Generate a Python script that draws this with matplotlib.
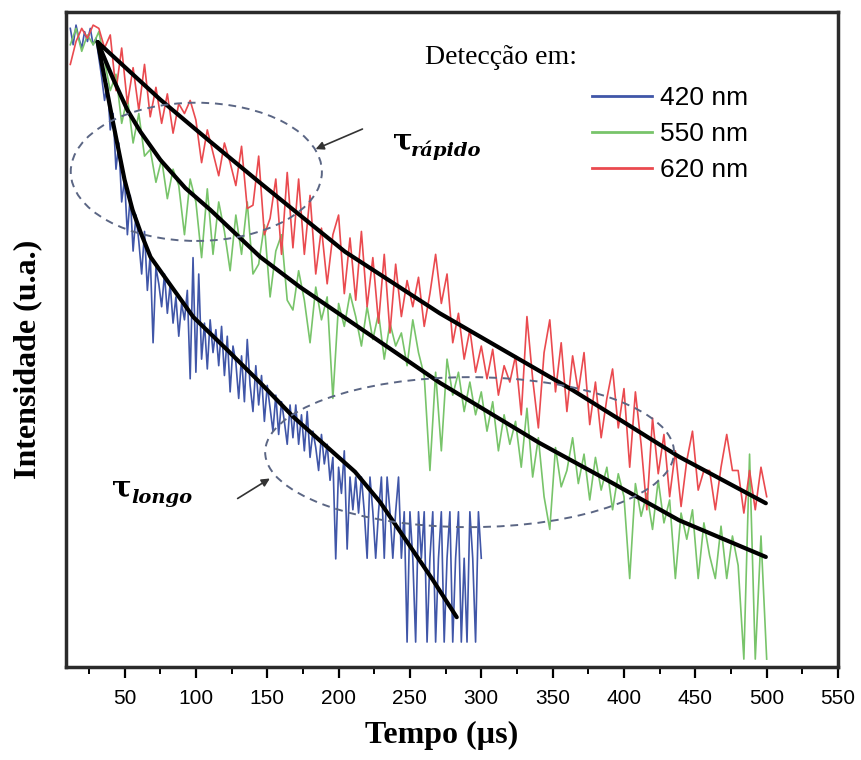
import numpy as np
import matplotlib.pyplot as plt
from matplotlib.patches import Ellipse

# --- measured decay traces (intensity in arbitrary units, 0-100) ---
# 420 nm: sampled every 2 us starting at 12 us
t0_blue, dt_blue = 12, 2
i_blue = [97.5, 95.0, 98.0, 96.0, 94.5, 97.0, 95.5, 97.5, 95.0, 96.0,
          93.0, 90.0, 86.5, 89.0, 82.0, 84.5, 76.0, 80.0, 71.0, 74.5,
          66.0, 72.0, 63.5, 69.0, 65.0, 60.0, 66.5, 57.5, 63.0, 49.5,
          61.0, 58.5, 55.0, 60.0, 54.0, 58.5, 52.5, 56.5, 50.5, 55.5,
          53.0, 57.5, 44.0, 62.5, 45.0, 60.0, 47.0, 52.5, 45.5, 53.0,
          48.0, 51.5, 46.0, 52.0, 44.5, 50.5, 42.0, 49.0, 46.5, 41.0,
          47.5, 40.5, 50.0, 43.0, 39.0, 46.0, 40.0, 44.5, 37.5, 43.0,
          39.5, 36.0, 41.5, 35.5, 40.5, 37.5, 34.0, 40.0, 35.0, 40.0,
          34.0, 38.5, 33.0, 39.0, 32.0, 36.0, 33.5, 30.0, 35.5, 31.0,
          34.0, 28.5, 32.0, 16.5, 30.5, 26.5, 33.0, 18.0, 29.0, 24.0,
          29.0, 23.5, 29.0, 23.7, 16.6, 29.0, 23.7, 16.6, 23.7, 29.0,
          16.6, 29.0, 23.7, 16.6, 23.7, 29.0, 16.6, 23.7, 3.8, 23.7,
          16.6, 3.8, 23.7, 16.6, 23.7, 3.8, 16.6, 23.7, 3.8, 16.6,
          23.7, 3.8, 16.6, 23.7, 3.8, 16.6, 23.7, 3.8, 16.6, 3.8,
          23.7, 16.6, 3.8, 23.7, 16.6]

# 550 nm: sampled every 4 us starting at 12 us
t0_green, dt_green = 12, 4
i_green = [95.0, 97.5, 94.0, 96.5, 95.0, 97.0, 92.5, 88.0, 90.5, 83.0,
           87.0, 80.0, 84.5, 78.0, 79.0, 74.0, 77.5, 71.5, 76.0, 73.5,
           66.0, 74.5, 71.0, 62.5, 73.0, 63.0, 71.0, 66.5, 60.5, 69.0,
           63.0, 71.0, 60.0, 61.5, 67.5, 56.5, 63.5, 66.0, 56.0, 54.5,
           60.5, 56.0, 49.5, 58.0, 53.0, 56.5, 41.0, 55.5, 52.0, 57.0,
           53.5, 49.0, 55.0, 50.0, 54.0, 47.0, 52.5, 49.0, 51.0, 46.0,
           53.0, 48.0, 44.5, 30.0, 45.0, 33.0, 47.0, 41.5, 45.0, 39.0,
           43.5, 38.5, 42.0, 36.0, 40.5, 33.0, 38.5, 34.0, 37.5, 30.5,
           39.5, 29.0, 35.0, 26.0, 21.0, 33.5, 27.5, 30.0, 35.0, 28.0,
           32.5, 25.5, 32.0, 27.0, 30.5, 24.0, 29.5, 26.0, 13.5, 28.0,
           23.0, 26.5, 21.0, 28.5, 22.0, 25.5, 13.5, 23.5, 19.5, 24.0,
           13.5, 22.0, 17.0, 13.5, 21.5, 13.5, 20.0, 15.5, 1.2, 32.5,
           1.2, 20.0, 1.2]

# 620 nm: sampled every 4 us starting at 12 us
t0_red, dt_red = 12, 4
i_red = [92.0, 95.5, 97.5, 96.0, 98.0, 97.5, 94.5, 96.5, 88.0, 94.5,
         86.0, 91.5, 85.0, 92.0, 84.0, 88.5, 83.0, 87.5, 81.5, 86.0,
         84.5, 86.5, 83.5, 77.0, 82.0, 78.5, 75.0, 80.0, 77.0, 73.5,
         79.5, 70.0, 70.5, 78.0, 66.0, 68.5, 74.5, 63.0, 75.5, 64.0,
         74.5, 63.0, 72.0, 60.0, 67.0, 58.5, 66.0, 69.0, 57.0, 65.5,
         56.0, 66.5, 55.0, 62.5, 52.5, 63.0, 51.0, 61.5, 53.5, 59.0,
         55.0, 59.5, 52.0, 57.0, 63.0, 55.5, 60.0, 49.5, 54.0, 47.0,
         51.5, 45.0, 49.0, 44.0, 48.5, 41.5, 46.0, 43.5, 47.5, 38.5,
         53.5, 44.0, 36.5, 48.0, 53.0, 42.0, 49.5, 39.0, 47.5, 42.0,
         48.0, 37.0, 43.5, 35.0, 41.0, 45.5, 36.5, 42.5, 30.5, 42.0,
         34.0, 24.0, 38.0, 29.5, 35.5, 26.0, 33.0, 24.5, 31.5, 36.0,
         27.0, 30.0, 30.0, 24.0, 30.5, 35.5, 30.0, 30.0, 23.5, 30.0,
         24.0, 30.5, 26.0]

# --- fitted curves ---
fit_blue_t = [31.2, 41.6, 50.0, 55.6, 61.2, 68.2, 82.2, 98.3, 122.0, 145.1, 168.2, 191.9, 211.5, 229.0, 249.9, 266.0, 282.8]
fit_blue_i = [95.4, 83.5, 74.4, 69.8, 66.4, 62.6, 58.3, 53.4, 48.4, 43.4, 38.2, 33.6, 29.8, 25.2, 18.5, 13.3, 7.6]
fit_green_t = [31.2, 41.6, 52.1, 61.2, 75.2, 92.7, 110.1, 145.1, 173.0, 222.0, 270.9, 340.8, 382.7, 438.6, 499.4]
fit_green_i = [95.4, 90.0, 85.0, 81.7, 77.4, 73.1, 69.8, 62.6, 58.0, 50.7, 43.4, 34.2, 29.2, 22.4, 16.8]
fit_red_t = [31.2, 54.2, 75.2, 110.1, 145.1, 204.5, 270.9, 363.8, 438.6, 499.4]
fit_red_i = [95.4, 90.8, 86.6, 80.2, 73.9, 63.4, 54.0, 42.3, 32.1, 25.0]

labels = ['420 nm', '550 nm', '620 nm']
colors = ['#4056a8', '#78c46a', '#ea4a4f']

serif = 'Liberation Serif'
sans = 'Liberation Sans'

fig = plt.figure(figsize=(8.62, 7.6), dpi=100)
ax = fig.add_axes([0.0766, 0.1224, 0.8956, 0.8618])

traces = [(t0_blue, dt_blue, i_blue), (t0_green, dt_green, i_green), (t0_red, dt_red, i_red)]
handles = []
for (t0, dt, vals), c, lab in zip(traces, colors, labels):
    t = t0 + dt * np.arange(len(vals))
    h, = ax.plot(t, vals, color=c, lw=1.2, label=lab)
    handles.append(h)

for ft, fi in [(fit_blue_t, fit_blue_i), (fit_green_t, fit_green_i), (fit_red_t, fit_red_i)]:
    ax.plot(ft, fi, color='black', lw=3, solid_capstyle='round', solid_joinstyle='round', zorder=5)

# dashed ellipses marking the two decay regimes
ell_color = '#5b6684'
ax.add_patch(Ellipse((100.3, 75.6), 176, 21.1, fill=False, ec=ell_color, lw=1.4, ls=(0, (4, 3)), zorder=6))
ax.add_patch(Ellipse((291.8, 32.8), 286.5, 22.9, fill=False, ec=ell_color, lw=1.4, ls=(0, (4, 3)), zorder=6))

arrow = dict(arrowstyle='-|>', color='#333333', lw=1.2, mutation_scale=12)
ax.annotate('', xy=(182.1, 78.9), xytext=(218.5, 82.3), arrowprops=arrow, zorder=7)
ax.annotate('', xy=(153.5, 29.0), xytext=(127.6, 25.5), arrowprops=arrow, zorder=7)

ax.text(238, 79.0, 'τ', fontsize=21, fontweight='bold', family='DejaVu Serif', va='baseline')
ax.text(251, 78.0, 'rápido', fontsize=14, fontweight='bold', style='italic', family='DejaVu Serif', va='baseline')
ax.text(41.5, 26.0, 'τ', fontsize=21, fontweight='bold', family='DejaVu Serif', va='baseline')
ax.text(54.5, 25.0, 'longo', fontsize=14, fontweight='bold', style='italic', family='DejaVu Serif', va='baseline')

ax.text(0.465, 0.931, 'Detecção em:', transform=ax.transAxes, fontsize=20, family=serif, va='center')
leg = ax.legend(handles=handles, loc='upper left', bbox_to_anchor=(0.681, 0.887), frameon=False,
                prop={'family': sans, 'size': 19}, handlelength=2.3, handletextpad=0.3,
                labelspacing=0.45, borderpad=0, borderaxespad=0)
for line in leg.get_lines():
    line.set_linewidth(2)

ax.set_xlim(9, 550)
ax.set_ylim(0, 100)
ax.set_xticks(range(50, 551, 50))
ax.set_xticks(range(25, 550, 50), minor=True)
ax.set_yticks([])
ax.tick_params(axis='x', which='major', direction='out', length=8, width=1.6, pad=8, labelsize=15)
ax.tick_params(axis='x', which='minor', direction='out', length=5, width=1.4)
for lbl in ax.get_xticklabels():
    lbl.set_family(sans)

for sp in ax.spines.values():
    sp.set_linewidth(2.5)
    sp.set_color('#2b2b2b')

ax.set_xlabel('Tempo (µs)', fontsize=23, fontweight='bold', family=serif)
ax.xaxis.set_label_coords(0.486, -0.083)
ax.set_ylabel('Intensidade (u.a.)', fontsize=23, fontweight='bold', family=serif)
ax.yaxis.set_label_coords(-0.031, 0.469)

fig.savefig('out.png', dpi=100)
